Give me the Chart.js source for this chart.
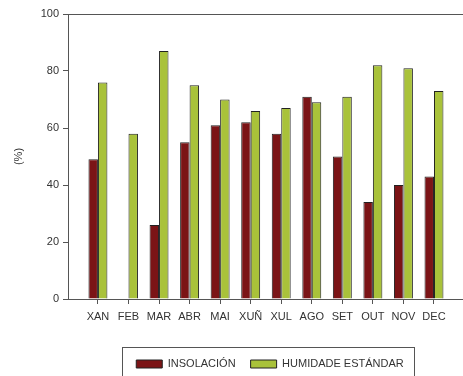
<!DOCTYPE html>
<html>
<head>
<meta charset="utf-8">
<script src="https://cdn.jsdelivr.net/npm/chart.js@4/dist/chart.umd.min.js"></script>
<style>
  html, body { margin: 0; padding: 0; background: #fff; }
  #wrap { width: 463px; height: 376px; }
</style>
</head>
<body>
<div id="wrap"><canvas id="c" width="463" height="376"></canvas></div>
<script>
const MONTHS = ['XAN', 'FEB', 'MAR', 'ABR', 'MAI', 'XUÑ', 'XUL', 'AGO', 'SET', 'OUT', 'NOV', 'DEC'];
const INSOLACION = [49, null, 26, 55, 61, 62, 58, 71, 50, 34, 40, 43];
const HUMIDADE = [76, 58, 87, 75, 70, 66, 67, 69, 71, 82, 81, 73];
const Y_TICKS = [0, 20, 40, 60, 80, 100];
const SERIES_NAMES = ['INSOLACIÓN', 'HUMIDADE ESTÁNDAR'];

const AXIS = '#555555';
const TEXT = '#333333';
const FONT = { family: '"Liberation Sans", Arial, sans-serif', size: 11 };

const legendPlugin = {
  id: 'legendTweak',
  afterLayout(chart) {
    const lg = chart.legend;
    const dx = 38.5, dy = 3.5;
    lg.left += dx; lg.right += dx; lg.top += dy; lg.bottom += dy;
  },
  afterDraw(chart) {
    const hb = chart.legend.legendHitBoxes;
    if (!hb || !hb.length) return;
    const last = hb[hb.length - 1];
    const x0 = Math.round(hb[0].left - 14) + 0.5;
    const x1 = Math.round(last.left + last.width + 10) + 0.5;
    const y0 = Math.round(hb[0].top - 11.5) + 0.5;
    const ctx = chart.ctx;
    ctx.save();
    ctx.strokeStyle = AXIS;
    ctx.lineWidth = 1;
    ctx.strokeRect(x0, y0, x1 - x0, 400 - y0);
    ctx.restore();
  }
};

new Chart(document.getElementById('c'), {
  type: 'bar',
  data: {
    datasets: [
      {
        label: SERIES_NAMES[0],
        data: INSOLACION.map((v, i) => ({ x: i, y: v })),
        backgroundColor: '#7b1416',
        borderColor: '#222222',
        borderWidth: 1,
        categoryPercentage: 0.62,
        barPercentage: 1.0
      },
      {
        label: SERIES_NAMES[1],
        data: HUMIDADE.map((v, i) => ({ x: i, y: v })),
        backgroundColor: '#a9c23a',
        borderColor: '#222222',
        borderWidth: 1,
        categoryPercentage: 0.62,
        barPercentage: 1.0
      }
    ]
  },
  options: {
    responsive: false,
    animation: false,
    devicePixelRatio: 1,
    layout: { padding: { top: 14, right: 0, left: 0, bottom: 0 } },
    plugins: {
      legend: {
        position: 'bottom',
        labels: {
          font: FONT,
          color: TEXT,
          boxWidth: 26,
          boxHeight: 8,
          padding: 15
        }
      },
      tooltip: { enabled: false }
    },
    scales: {
      x: {
        type: 'linear',
        offset: false,
        min: -0.98,
        max: 11.95,
        afterBuildTicks: (scale) => { scale.ticks = MONTHS.map((_, i) => ({ value: i })); },
        afterFit: (scale) => { scale.height = 41; },
        ticks: {
          autoSkip: false,
          maxRotation: 0,
          font: FONT,
          color: TEXT,
          padding: 6,
          callback: (v) => MONTHS[v] ?? ''
        },
        grid: { offset: false, drawOnChartArea: false, color: AXIS, tickLength: 5, tickWidth: 1 },
        border: { display: true, color: AXIS, width: 1 }
      },
      y: {
        min: 0,
        max: 100,
        afterBuildTicks: (scale) => { scale.ticks = Y_TICKS.map(v => ({ value: v })); },
        afterFit: (scale) => { scale.width = 68; },
        ticks: { font: FONT, color: TEXT, padding: 4 },
        grid: {
          color: (ctx) => (ctx.tick && ctx.tick.value === 100 ? AXIS : 'rgba(0,0,0,0)'),
          tickColor: AXIS,
          tickLength: 5,
          lineWidth: 1
        },
        border: { display: true, color: AXIS, width: 1 },
        title: { display: true, text: '(%)', font: FONT, color: TEXT, padding: { top: 12, bottom: 0 } }
      }
    }
  },
  plugins: [legendPlugin]
});
</script>
</body>
</html>
